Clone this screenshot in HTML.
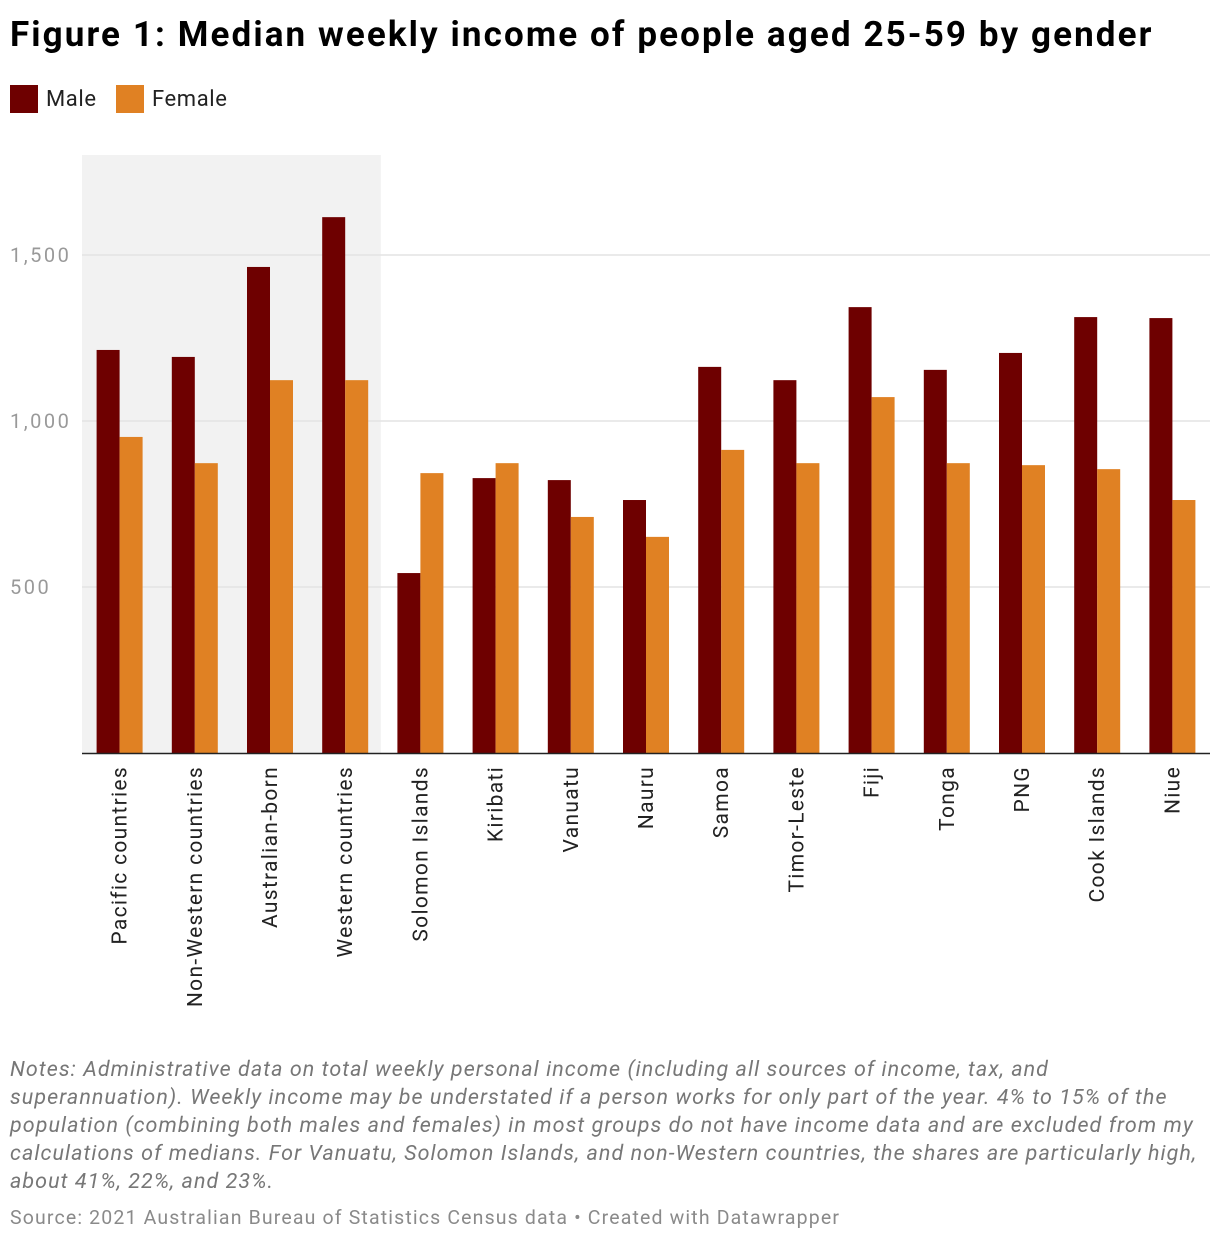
<!DOCTYPE html>
<html><head><meta charset="utf-8">
<style>
body{margin:0;background:#fff;font-family:"Roboto","Liberation Sans",sans-serif;}
#wrap{position:relative;width:1220px;height:1242px;overflow:hidden;}
h1{position:absolute;left:10px;top:14px;margin:0;font-size:35px;font-weight:bold;color:#000;letter-spacing:2.1px;white-space:nowrap;}
.leg{position:absolute;top:85px;font-size:22px;color:#222;display:flex;align-items:center;letter-spacing:0.6px;}
.sw{width:28px;height:28px;margin-right:8px;}
.notes{position:absolute;left:10px;top:1056px;width:1215px;font-size:21.5px;line-height:28px;font-style:italic;color:#777;letter-spacing:1.05px;white-space:nowrap;}
.src{position:absolute;left:10px;top:1206px;font-size:19.5px;color:#8a8a8a;letter-spacing:1.15px;white-space:nowrap;}
</style></head><body>
<div id="wrap">
<h1>Figure 1: Median weekly income of people aged 25-59 by gender</h1>
<div class="leg" style="left:10px"><div class="sw" style="background:#6e0000"></div>Male</div>
<div class="leg" style="left:116px"><div class="sw" style="background:#e08123"></div>Female</div>
<svg id="chart" width="1220" height="1242" style="position:absolute;left:0;top:0"></svg>
<div class="notes">Notes: Administrative data on total weekly personal income (including all sources of income, tax, and<br>superannuation). Weekly income may be understated if a person works for only part of the year. 4% to 15% of the<br>population (combining both males and females) in most groups do not have income data and are excluded from my<br>calculations of medians. For Vanuatu, Solomon Islands, and non-Western countries, the shares are particularly high,<br>about 41%, 22%, and 23%.</div>
<div class="src">Source: 2021 Australian Bureau of Statistics Census data • Created with Datawrapper</div>
</div>
<script>
const categories=["Pacific countries","Non-Western countries","Australian-born","Western countries","Solomon Islands","Kiribati","Vanuatu","Nauru","Samoa","Timor-Leste","Fiji","Tonga","PNG","Cook Islands","Niue"];
const maleValues=[1214,1193,1464,1614,542,828,822,762,1163,1123,1343,1154,1205,1313,1310];
const femaleValues=[952,873,1123,1123,843,873,711,651,913,873,1072,873,867,855,762];
const yTicks=[500,1000,1500];
const yTickLabels=["500","1,000","1,500"];
const highlightCount=4;

const NS="http://www.w3.org/2000/svg";
const svg=document.getElementById('chart');
const x0=82,x1=1210,yBase=753,yTop=155;
const groupW=(x1-x0)/categories.length;
const barW=23;
function y(v){return yBase-v*166/500;}
function gx(i){return x0+i*groupW;}
function mk(t,a){const e=document.createElementNS(NS,t);for(const k in a)e.setAttribute(k,a[k]);svg.appendChild(e);return e;}
let hl=mk('rect',{x:gx(0),y:yTop,width:groupW*highlightCount-2,height:yBase-yTop,fill:'#f2f2f2'});


yTicks.forEach((t,i)=>{
 let g=mk('line',{x1:x0,x2:x1,y1:y(t),y2:y(t),stroke:'#e3e3e3','stroke-width':1.5});
 
 
 let l=mk('text',{x:10,y:y(t)+7,'font-size':20,fill:'#999','letter-spacing':2.5,'font-family':'Roboto,Liberation Sans,sans-serif'});
 l.textContent=yTickLabels[i];
 
 
});
categories.forEach((c,i)=>{
 const cx=gx(i)+groupW/2;
 let m=mk('rect',{x:cx-barW,y:y(maleValues[i]),width:barW,height:yBase-y(maleValues[i]),fill:'#6e0000'});
 
 
 let f=mk('rect',{x:cx,y:y(femaleValues[i]),width:barW,height:yBase-y(femaleValues[i]),fill:'#e08123'});
 
 
 let t=mk('text',{transform:`translate(${cx+7},766) rotate(-90)`,'text-anchor':'end','font-size':21,'letter-spacing':1.3,fill:'#222','font-family':'Roboto,Liberation Sans,sans-serif'});
 t.textContent=c;
 
 
});
let ax=mk('line',{x1:x0,x2:x1,y1:yBase+0.5,y2:yBase+0.5,stroke:'#222','stroke-width':1.5});


</script>
</body></html>
